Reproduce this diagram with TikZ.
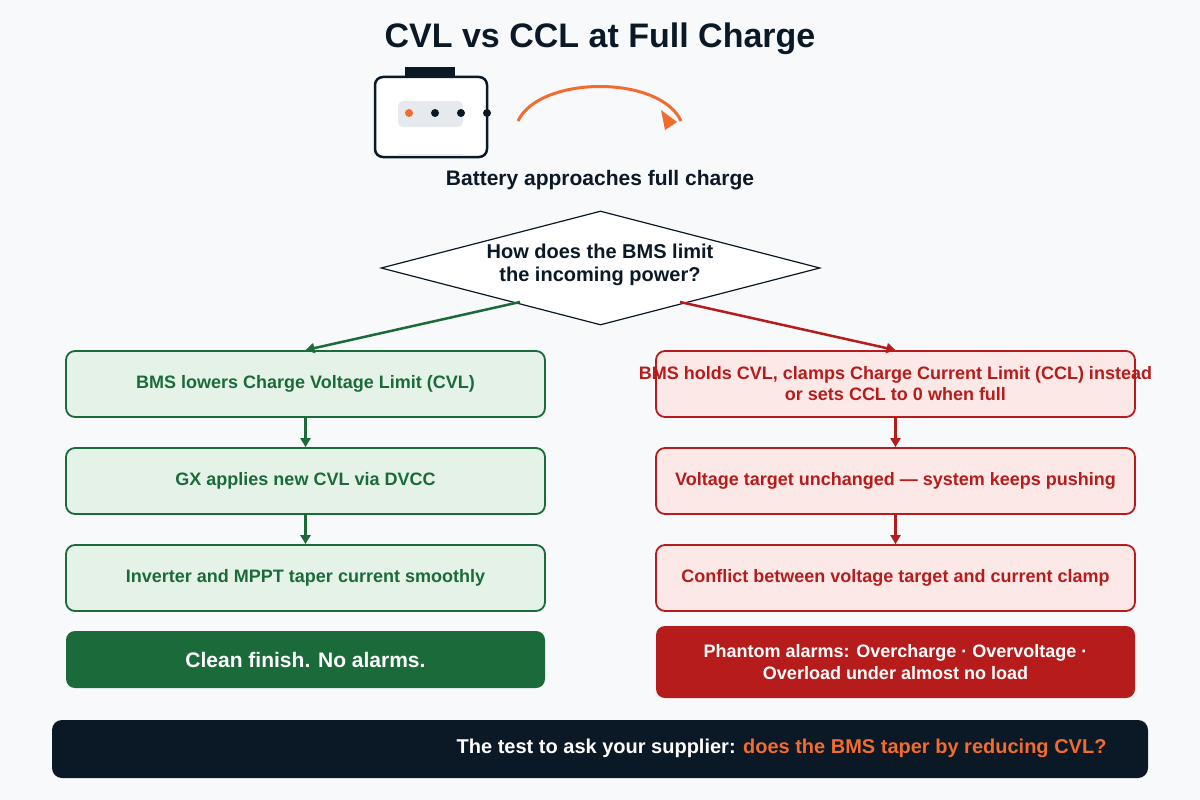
\documentclass[tikz,border=0pt]{standalone}
\usepackage{fontspec}
\setmainfont{Liberation Sans}
\usetikzlibrary{shapes.geometric,arrows.meta}
\definecolor{bg}{HTML}{F7F9FB}
\definecolor{ink}{HTML}{0B1826}
\definecolor{gdk}{HTML}{1B6B3A}
\definecolor{gfill}{HTML}{E5F2E8}
\definecolor{rdk}{HTML}{B71C1C}
\definecolor{rfill}{HTML}{FCE8E6}
\definecolor{orng}{HTML}{F26B2F}
\definecolor{pill}{HTML}{E6EAEF}
\begin{document}
\begin{tikzpicture}[x=1pt,y=-1pt,
 gbox/.style={draw=gdk,line width=1.8pt,fill=gfill,rounded corners=9pt,minimum width=479pt,minimum height=66pt,text=gdk,font=\bfseries\fontsize{18}{21}\selectfont,align=center},
 rbox/.style={draw=rdk,line width=1.8pt,fill=rfill,rounded corners=9pt,minimum width=479pt,minimum height=66pt,text=rdk,font=\bfseries\fontsize{18}{21}\selectfont,align=center},
 garr/.style={draw=gdk,line width=2.5pt,-{Triangle[length=9pt,width=10pt]}},
 rarr/.style={draw=rdk,line width=2.5pt,-{Triangle[length=9pt,width=10pt]}}]
\fill[bg] (0,0) rectangle (1200,800);
\useasboundingbox (0,0) rectangle (1200,800);
\node[font=\bfseries\fontsize{34}{40}\selectfont,text=ink] (title) at (600,39) {CVL vs CCL at Full Charge};
% battery icon
\fill[ink] (405,67) rectangle (455,78);
\draw[ink,line width=2.5pt,fill=white,rounded corners=8pt] (375,77) rectangle (487,157);
\fill[pill,rounded corners=5pt] (398,101) rectangle (463,127);
\fill[pill] (398,154) rectangle (463,156);
\fill[orng] (409,113) circle (4);
\foreach \x in {435,461,487} \fill[ink] (\x,113) circle (4);
\coordinate (a1) at (518,121);
\coordinate (a2) at (681,121);
\draw[orng,line width=3pt] (a1) .. controls (540,75) and (660,75) .. (a2);
\fill[orng] (661,110) -- (677,122) -- (665,130) -- cycle;
\node[font=\bfseries\fontsize{21}{24}\selectfont,text=ink] (bat) at (600,180) {Battery approaches full charge};
\node[diamond,draw=ink,line width=1.2pt,fill=white,minimum width=439pt,minimum height=114pt,aspect=3.85,inner sep=0pt] (q) at (600.5,268) {};
\node[font=\bfseries\fontsize{20}{23}\selectfont,text=ink,align=center] at (600,265) {How does the BMS limit\\the incoming power?};
\node[gbox] (g1) at (305.5,384) {BMS lowers Charge Voltage Limit (CVL)};
\node[gbox] (g2) at (305.5,481) {GX applies new CVL via DVCC};
\node[gbox] (g3) at (305.5,578) {Inverter and MPPT taper current smoothly};
\node[fill=gdk,rounded corners=9pt,minimum width=479pt,minimum height=57pt,text=white,font=\bfseries\fontsize{21}{24}\selectfont] (g4) at (305.5,659.5) {Clean finish. No alarms.};
\node[rbox] (r1) at (895.5,384) {};
\node[text=rdk,font=\bfseries\fontsize{18}{21}\selectfont,align=center] (r1t) at (r1) {BMS holds CVL, clamps Charge Current Limit (CCL) instead\\or sets CCL to 0 when full};
\node[rbox] (r2) at (895.5,481) {Voltage target unchanged — system keeps pushing};
\node[rbox] (r3) at (895.5,578) {Conflict between voltage target and current clamp};
\node[fill=rdk,rounded corners=9pt,minimum width=479pt,minimum height=72pt,text=white,font=\bfseries\fontsize{18}{22}\selectfont,align=center] (r4) at (895.5,662) {Phantom alarms: Overcharge · Overvoltage ·\\Overload under almost no load};
\coordinate (qg) at (520,302);
\coordinate (qr) at (680,302);
\draw[garr] (qg) -- (g1.north);
\draw[rarr] (qr) -- (r1.north);
\draw[garr] (g1) -- (g2);
\draw[garr] (g2) -- (g3);
\draw[rarr] (r1) -- (r2);
\draw[rarr] (r2) -- (r3);
\node[fill=ink,rounded corners=10pt,minimum width=1096pt,minimum height=58pt] (bar) at (600,749) {};
\node[font=\bfseries\fontsize{20}{24}\selectfont,anchor=east] at (1110,748) {\textcolor{white}{The test to ask your supplier:} \textcolor{orng}{does the BMS taper by reducing CVL?}};
\end{tikzpicture}
\end{document}
